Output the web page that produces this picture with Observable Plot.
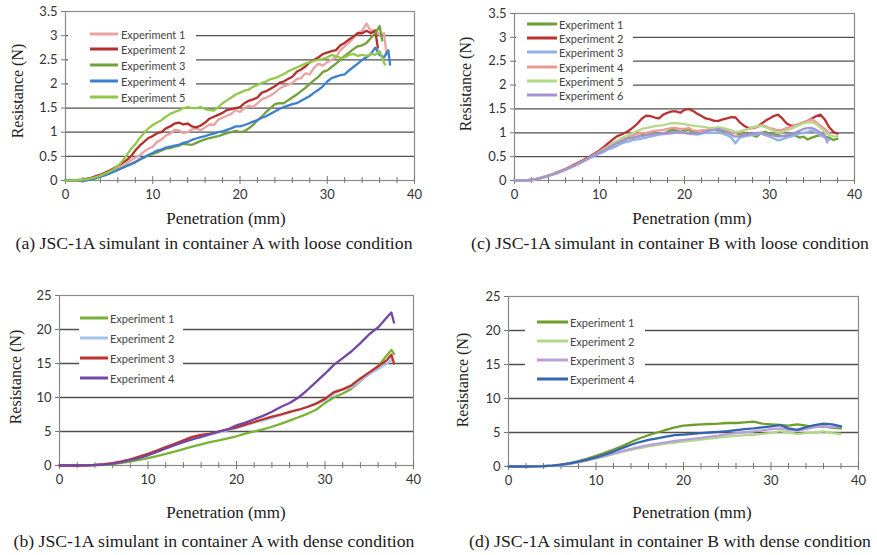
<!DOCTYPE html>
<html>
<head>
<meta charset="utf-8">
<script src="https://cdn.jsdelivr.net/npm/d3@7"></script>
<script src="https://cdn.jsdelivr.net/npm/@observablehq/plot@0.6"></script>
<style>
  html, body { margin: 0; padding: 0; background: #fff; }
  #root { position: relative; width: 877px; height: 555px; overflow: hidden; background: #fff; }
  .panel { position: absolute; }
  .txt { position: absolute; white-space: nowrap; transform: translate(-50%, -50%); font-family: "Liberation Serif", "Times New Roman", serif; color: #1a1a1a; }
  .ylab { position: absolute; white-space: nowrap; transform: translate(-50%, -50%) rotate(-90deg); font-family: "Liberation Serif", "Times New Roman", serif; font-size: 16px; color: #222; }
  .legend { position: absolute; background: #fff; }
  .item { position: absolute; font-family: Lato, "Open Sans", sans-serif; font-size: 11px; color: #444; white-space: nowrap; transform: translateY(-50%); }
  .sw { position: absolute; height: 3px; transform: translateY(-50%); }
</style>
</head>
<body>
<div id="root"></div>
<script>
// ---------- DATA ----------
const xTickLabels = [0, 10, 20, 30, 40];
const xMinorTicks = [2, 4, 6, 8, 12, 14, 16, 18, 22, 24, 26, 28, 32, 34, 36, 38];
const xMajorTicks = [0, 10, 20, 30, 40];
const yTicksLoose = [0, 0.5, 1, 1.5, 2, 2.5, 3, 3.5];
const yTicksDense = [0, 5, 10, 15, 20, 25];

// (a) container A, loose — [penetration mm, resistance N]
const namesA = ["Experiment 1","Experiment 2","Experiment 3","Experiment 4","Experiment 5"];
const colorsA = ["#eaa3a3","#b3302d","#73a13a","#3d80cf","#92c94a"];
const aExp1 = [[0,0],[1,0],[2,0.01],[2.5,0.02],[3,0.04],[3.5,0.06],[4,0.09],[4.5,0.12],[5,0.15],[5.5,0.2],[6,0.24],[6.5,0.3],[7,0.35],[7.5,0.42],[8,0.47],[8.5,0.52],[9,0.6],[9.5,0.66],[10,0.7],[10.5,0.8],[11,0.85],[11.5,0.93],[12,0.97],[12.5,1.05],[13,1.04],[13.5,0.98],[14,1.0],[14.5,1.06],[15,1.08],[15.5,1.04],[16,1.1],[16.5,1.16],[17,1.15],[17.5,1.26],[18,1.3],[18.5,1.34],[19,1.38],[19.5,1.46],[20,1.42],[20.5,1.5],[21,1.55],[21.5,1.52],[22,1.6],[22.5,1.68],[23,1.72],[23.5,1.76],[24,1.82],[24.5,1.9],[25,1.95],[25.5,1.98],[26,2.02],[26.5,2.1],[27,2.12],[27.5,2.22],[28,2.2],[28.5,2.34],[29,2.42],[29.5,2.38],[30,2.45],[30.5,2.5],[31,2.55],[31.5,2.7],[32,2.78],[32.5,2.85],[33,2.95],[33.5,3.05],[34,3.1],[34.5,3.25],[35,3.1],[35.5,3.12],[36,3.02],[36.5,3.05],[36.8,2.6]];
const aExp2 = [[0,0],[1,0],[1.5,0.01],[2,0.02],[2.5,0.04],[3,0.06],[3.5,0.09],[4,0.12],[4.5,0.16],[5,0.2],[5.5,0.25],[6,0.3],[6.5,0.36],[7,0.42],[7.5,0.5],[8,0.62],[8.5,0.72],[9,0.8],[9.5,0.88],[10,0.92],[10.5,0.98],[11,1.0],[11.5,1.08],[12,1.12],[12.5,1.18],[13,1.2],[13.5,1.16],[14,1.18],[14.5,1.12],[15,1.1],[15.5,1.14],[16,1.2],[16.5,1.28],[17,1.32],[17.5,1.36],[18,1.4],[18.5,1.46],[19,1.48],[19.5,1.5],[20,1.52],[20.5,1.6],[21,1.65],[21.5,1.68],[22,1.72],[22.5,1.82],[23,1.85],[23.5,1.9],[24,1.95],[24.5,2.02],[25,2.05],[25.5,2.1],[26,2.15],[26.5,2.25],[27,2.3],[27.5,2.36],[28,2.45],[28.5,2.5],[29,2.55],[29.5,2.62],[30,2.65],[30.5,2.68],[31,2.7],[31.5,2.8],[32,2.85],[32.5,2.92],[33,2.98],[33.5,3.05],[34,3.05],[34.5,3.1],[35,3.05],[35.5,3.1],[35.8,2.75]];
const aExp3 = [[0,0],[2,0],[2.5,0.01],[3,0.03],[3.5,0.05],[4,0.08],[4.5,0.11],[5,0.14],[5.5,0.18],[6,0.22],[6.5,0.26],[7,0.3],[7.5,0.34],[8,0.38],[8.5,0.43],[9,0.47],[9.5,0.52],[10,0.55],[10.5,0.58],[11,0.62],[11.5,0.66],[12,0.67],[12.5,0.7],[13,0.72],[13.5,0.76],[14,0.75],[14.5,0.74],[15,0.78],[15.5,0.82],[16,0.85],[16.5,0.88],[17,0.9],[17.5,0.92],[18,0.95],[18.5,0.98],[19,1.0],[19.5,1.03],[20,1.0],[20.5,1.02],[21,1.08],[21.5,1.15],[22,1.25],[22.5,1.32],[23,1.42],[23.5,1.5],[24,1.58],[24.5,1.6],[25,1.6],[25.5,1.66],[26,1.72],[26.5,1.78],[27,1.85],[27.5,1.92],[28,2.0],[28.5,2.08],[29,2.15],[29.5,2.25],[30,2.28],[30.5,2.35],[31,2.42],[31.5,2.5],[32,2.58],[32.5,2.65],[33,2.72],[33.5,2.78],[34,2.8],[34.5,2.85],[35,2.95],[35.5,3.05],[36,3.2],[36.3,2.9]];
const aExp4 = [[0,0],[2,0],[2.5,0.01],[3,0.03],[3.5,0.05],[4,0.08],[4.5,0.11],[5,0.14],[5.5,0.18],[6,0.22],[6.5,0.26],[7,0.3],[7.5,0.34],[8,0.38],[8.5,0.44],[9,0.48],[9.5,0.53],[10,0.57],[10.5,0.62],[11,0.64],[11.5,0.68],[12,0.7],[12.5,0.72],[13,0.74],[13.5,0.78],[14,0.8],[14.5,0.84],[15,0.87],[15.5,0.9],[16,0.92],[16.5,0.95],[17,0.97],[17.5,1.0],[18,1.02],[18.5,1.05],[19,1.08],[19.5,1.12],[20,1.12],[20.5,1.15],[21,1.18],[21.5,1.22],[22,1.25],[22.5,1.3],[23,1.33],[23.5,1.38],[24,1.43],[24.5,1.48],[25,1.52],[25.5,1.55],[26,1.58],[26.5,1.6],[27,1.65],[27.5,1.7],[28,1.75],[28.5,1.82],[29,1.88],[29.5,1.95],[30,2.05],[30.5,2.12],[31,2.15],[31.5,2.18],[32,2.2],[32.5,2.28],[33,2.35],[33.5,2.42],[34,2.5],[34.5,2.55],[35,2.62],[35.5,2.75],[36,2.6],[36.5,2.55],[37,2.7],[37.2,2.4]];
const aExp5 = [[0,0],[1,0],[1.5,0.01],[2,0.02],[2.5,0.03],[3,0.05],[3.5,0.07],[4,0.1],[4.5,0.14],[5,0.18],[5.5,0.23],[6,0.3],[6.5,0.4],[7,0.52],[7.5,0.65],[8,0.75],[8.5,0.88],[9,0.98],[9.5,1.08],[10,1.15],[10.5,1.2],[11,1.25],[11.5,1.32],[12,1.38],[12.5,1.42],[13,1.45],[13.5,1.5],[14,1.52],[14.5,1.5],[15,1.5],[15.5,1.52],[16,1.48],[16.5,1.46],[17,1.45],[17.5,1.52],[18,1.6],[18.5,1.66],[19,1.72],[19.5,1.78],[20,1.82],[20.5,1.86],[21,1.88],[21.5,1.94],[22,1.98],[22.5,2.02],[23,2.05],[23.5,2.1],[24,2.12],[24.5,2.16],[25,2.2],[25.5,2.26],[26,2.3],[26.5,2.34],[27,2.38],[27.5,2.42],[28,2.45],[28.5,2.48],[29,2.5],[29.5,2.52],[30,2.55],[30.5,2.6],[31,2.57],[31.5,2.54],[32,2.55],[32.5,2.6],[33,2.62],[33.5,2.58],[34,2.6],[34.5,2.58],[35,2.62],[35.5,2.6],[36,2.68],[36.6,2.4]];

// (c) container B, loose
const namesC = ["Experiment 1","Experiment 2","Experiment 3","Experiment 4","Experiment 5","Experiment 6"];
const colorsC = ["#6fa033","#bb3030","#8fb3e6","#ec9a98","#b3d98a","#a593d3"];
const cExp1 = [[0,0],[1,0],[2,0.01],[3,0.05],[4,0.1],[5,0.16],[6,0.23],[7,0.31],[8,0.4],[9,0.5],[10,0.6],[10.5,0.64],[11,0.7],[11.5,0.76],[12,0.78],[12.5,0.8],[13,0.85],[13.5,0.9],[14,0.9],[14.5,0.92],[15,0.95],[15.5,0.97],[16,0.98],[16.5,1.0],[17,1.0],[17.5,0.98],[18,1.02],[18.5,1.06],[19,1.05],[19.5,1.02],[20,1.04],[20.5,1.06],[21,1.02],[21.5,1.0],[22,1.0],[22.5,1.03],[23,1.05],[23.5,1.08],[24,1.05],[24.5,1.02],[25,1.02],[25.5,1.04],[26,1.0],[26.5,0.96],[27,0.95],[27.5,0.98],[28,0.95],[28.5,0.92],[29,1.0],[29.5,1.02],[30,0.98],[30.5,0.96],[31,0.95],[31.5,0.93],[32,0.92],[32.5,0.95],[33,0.95],[33.5,0.9],[34,0.92],[34.5,0.86],[35,0.9],[35.5,0.93],[36,0.95],[36.5,0.92],[37,0.9],[37.5,0.85],[38,0.87]];
const cExp2 = [[0,0],[1,0],[2,0.01],[3,0.05],[4,0.1],[5,0.17],[6,0.24],[7,0.33],[8,0.42],[9,0.52],[10,0.63],[10.5,0.7],[11,0.78],[11.5,0.85],[12,0.92],[12.5,0.96],[13,1.0],[13.5,1.05],[14,1.12],[14.5,1.2],[15,1.3],[15.5,1.36],[16,1.35],[16.5,1.32],[17,1.3],[17.5,1.38],[18,1.42],[18.5,1.45],[19,1.45],[19.5,1.42],[20,1.48],[20.5,1.5],[21,1.46],[21.5,1.4],[22,1.35],[22.5,1.3],[23,1.28],[23.5,1.25],[24,1.25],[24.5,1.28],[25,1.3],[25.5,1.33],[26,1.32],[26.5,1.22],[27,1.15],[27.5,1.1],[28,1.1],[28.5,1.12],[29,1.18],[29.5,1.25],[30,1.3],[30.5,1.35],[31,1.38],[31.5,1.3],[32,1.2],[32.5,1.15],[33,1.15],[33.5,1.18],[34,1.22],[34.5,1.25],[35,1.3],[35.5,1.35],[36,1.38],[36.5,1.28],[37,1.12],[37.5,1.02],[38,0.98]];
const cExp3 = [[0,0],[2,0],[3,0.04],[4,0.09],[5,0.15],[6,0.22],[7,0.3],[8,0.39],[9,0.48],[10,0.56],[10.5,0.6],[11,0.65],[11.5,0.68],[12,0.72],[12.5,0.77],[13,0.8],[13.5,0.82],[14,0.85],[14.5,0.86],[15,0.88],[15.5,0.9],[16,0.92],[16.5,0.94],[17,0.96],[17.5,0.97],[18,0.98],[18.5,0.99],[19,1.0],[19.5,1.02],[20,1.0],[20.5,0.98],[21,0.97],[21.5,0.96],[22,0.98],[22.5,1.0],[23,1.0],[23.5,1.0],[24,1.02],[24.5,0.98],[25,0.95],[25.5,0.9],[26,0.78],[26.5,0.9],[27,0.92],[27.5,0.94],[28,0.95],[28.5,0.96],[29,0.98],[29.5,0.95],[30,0.92],[30.5,0.88],[31,0.84],[31.5,0.86],[32,0.9],[32.5,0.92],[33,0.95],[33.5,0.98],[34,1.0],[34.5,1.02],[35,1.05],[35.5,1.0],[36,0.95],[36.5,0.9],[37,0.85]];
const cExp4 = [[0,0],[1,0],[2,0.01],[3,0.05],[4,0.1],[5,0.16],[6,0.23],[7,0.31],[8,0.4],[9,0.5],[10,0.6],[10.5,0.66],[11,0.72],[11.5,0.78],[12,0.82],[12.5,0.86],[13,0.9],[13.5,0.93],[14,0.95],[14.5,0.98],[15,1.0],[15.5,1.0],[16,1.02],[16.5,1.04],[17,1.05],[17.5,1.06],[18,1.08],[18.5,1.1],[19,1.1],[19.5,1.08],[20,1.08],[20.5,1.1],[21,1.05],[21.5,1.04],[22,1.05],[22.5,1.06],[23,1.08],[23.5,1.1],[24,1.1],[24.5,1.08],[25,1.05],[25.5,1.02],[26,1.0],[26.5,1.02],[27,1.05],[27.5,1.08],[28,1.1],[28.5,1.12],[29,1.15],[29.5,1.14],[30,1.1],[30.5,1.08],[31,1.05],[31.5,1.06],[32,1.1],[32.5,1.12],[33,1.15],[33.5,1.18],[34,1.22],[34.5,1.25],[35,1.28],[35.5,1.22],[36,1.15],[36.5,1.08],[37,1.0]];
const cExp5 = [[0,0],[1,0],[2,0.01],[3,0.05],[4,0.1],[5,0.16],[6,0.23],[7,0.31],[8,0.4],[9,0.5],[10,0.6],[10.5,0.65],[11,0.7],[11.5,0.76],[12,0.82],[12.5,0.88],[13,0.92],[13.5,0.96],[14,1.0],[14.5,1.04],[15,1.08],[15.5,1.1],[16,1.12],[16.5,1.14],[17,1.15],[17.5,1.16],[18,1.18],[18.5,1.2],[19,1.2],[19.5,1.19],[20,1.18],[20.5,1.16],[21,1.15],[21.5,1.14],[22,1.13],[22.5,1.12],[23,1.1],[23.5,1.1],[24,1.12],[24.5,1.1],[25,1.08],[25.5,1.05],[26,1.02],[26.5,1.03],[27,1.05],[27.5,1.08],[28,1.12],[28.5,1.14],[29,1.15],[29.5,1.12],[30,1.08],[30.5,1.04],[31,1.0],[31.5,1.02],[32,1.05],[32.5,1.08],[33,1.12],[33.5,1.16],[34,1.2],[34.5,1.22],[35,1.22],[35.5,1.18],[36,1.1],[36.5,1.02],[37,0.95],[37.5,0.93],[38,0.92]];
const cExp6 = [[0,0],[1,0],[2,0.01],[3,0.05],[4,0.1],[5,0.16],[6,0.23],[7,0.31],[8,0.4],[9,0.5],[10,0.59],[10.5,0.63],[11,0.68],[11.5,0.73],[12,0.78],[12.5,0.82],[13,0.85],[13.5,0.88],[14,0.9],[14.5,0.92],[15,0.93],[15.5,0.95],[16,0.96],[16.5,0.97],[17,0.98],[17.5,0.99],[18,1.0],[18.5,1.01],[19,1.02],[19.5,1.02],[20,1.0],[20.5,0.99],[21,0.98],[21.5,0.98],[22,1.0],[22.5,1.02],[23,1.05],[23.5,1.06],[24,1.08],[24.5,1.05],[25,1.0],[25.5,0.96],[26,0.92],[26.5,0.93],[27,0.95],[27.5,0.96],[28,0.98],[28.5,1.0],[29,1.0],[29.5,0.98],[30,0.95],[30.5,0.94],[31,0.92],[31.5,0.93],[32,0.95],[32.5,0.98],[33,1.0],[33.5,1.04],[34,1.08],[34.5,1.1],[35,1.1],[35.5,1.06],[36,1.0],[36.5,0.95],[36.8,0.8]];

// (b) container A, dense
const penB = [0,1,2,3,4,5,6,7,8,9,10,11,12,13,14,15,16,17,18,19,20,21,22,23,24,25,26,27,28,29,30,31,32,33,34,35,36,37,37.5,37.8];
const namesB = ["Experiment 1","Experiment 2","Experiment 3","Experiment 4"];
const colorsB = ["#78b236","#a4c4e8","#c0302e","#7447a0"];
const bExp1 = [0,0,0,0.02,0.05,0.1,0.2,0.38,0.58,0.82,1.08,1.38,1.72,2.05,2.42,2.78,3.12,3.42,3.68,3.98,4.3,4.68,5.0,5.3,5.7,6.12,6.6,7.1,7.6,8.2,9.2,10.0,10.6,11.3,12.4,13.5,14.6,16.2,17.0,16.4];
const bExp2 = [0,0,0,0.03,0.08,0.15,0.3,0.52,0.82,1.15,1.55,2.0,2.5,3.0,3.5,3.9,4.2,4.55,4.85,5.15,5.5,5.9,6.3,6.65,7.0,7.4,7.8,8.2,8.6,9.1,9.6,10.5,11.2,11.5,12.5,13.4,14.2,15.0,15.5,null];
const bExp3 = [0,0,0,0.03,0.1,0.2,0.35,0.6,0.9,1.3,1.7,2.2,2.7,3.2,3.7,4.2,4.5,4.7,5.0,5.3,5.6,6.0,6.4,6.8,7.2,7.5,7.9,8.2,8.6,9.1,9.8,10.8,11.2,11.8,12.8,13.7,14.6,15.5,16.3,15.0];
const bExp4 = [0,0,0,0.02,0.06,0.14,0.28,0.5,0.78,1.1,1.5,2.0,2.5,3.0,3.45,3.85,4.2,4.6,5.0,5.3,5.9,6.3,6.8,7.3,7.9,8.6,9.2,10.0,11.1,12.3,13.5,14.8,15.8,16.8,18.0,19.3,20.3,21.8,22.5,21.0];

// (d) container B, dense
const penD = [0,1,2,3,4,5,6,7,8,9,10,11,12,13,14,15,16,17,18,19,20,21,22,23,24,25,26,27,28,29,30,31,32,33,34,35,36,37,38];
const namesD = ["Experiment 1","Experiment 2","Experiment 3","Experiment 4"];
const colorsD = ["#6f9e2f","#b2d88a","#b8a0d8","#3465ae"];
const dExp1 = [0,0,0,0.02,0.06,0.14,0.28,0.5,0.8,1.15,1.55,2.0,2.5,3.0,3.6,4.15,4.6,5.0,5.4,5.75,6.0,6.1,6.2,6.25,6.3,6.4,6.4,6.5,6.6,6.3,6.2,6.1,6.0,6.2,6.0,5.8,5.9,5.7,5.6];
const dExp2 = [0,0,0,0.02,0.05,0.12,0.22,0.38,0.6,0.88,1.18,1.5,1.82,2.15,2.45,2.7,2.95,3.15,3.35,3.5,3.65,3.8,3.95,4.1,4.25,4.4,4.5,4.6,4.65,4.8,4.95,5.2,5.0,4.8,4.9,5.0,5.15,4.9,4.8];
const dExp3 = [0,0,0,0.02,0.05,0.12,0.24,0.4,0.64,0.92,1.22,1.55,1.9,2.25,2.6,2.9,3.15,3.35,3.55,3.75,3.9,4.05,4.2,4.4,4.55,4.75,4.9,5.05,5.15,5.3,5.5,5.6,5.4,5.3,5.5,5.8,5.9,5.8,5.9];
const dExp4 = [0,0,0,0.02,0.06,0.14,0.27,0.46,0.72,1.0,1.35,1.75,2.2,2.7,3.2,3.6,3.9,4.15,4.4,4.6,4.7,4.8,4.9,5.0,5.1,5.2,5.35,5.5,5.6,5.75,5.9,6.1,5.6,5.4,5.8,6.1,6.3,6.2,5.9];

const xLabel = "Penetration (mm)";
const yLabel = "Resistance (N)";
const captions = [
  "(a) JSC-1A simulant in container A with loose condition",
  "(c) JSC-1A simulant in container B with loose condition",
  "(b) JSC-1A simulant in container A with dense condition",
  "(d) JSC-1A simulant in container B with dense condition"
];

// ---------- DRAWING ----------
const root = document.getElementById("root");
const fromPairs = s => s.map(([x, y]) => ({x, y}));
const fromGrid = (grid, vals) => grid.map((x, j) => ({x, y: vals[j]})).filter(d => d.y != null);

function panel(cfg) {
  const innerH = cfg.height - cfg.marginTop - cfg.marginBottom;
  const yMax = cfg.yTicks[cfg.yTicks.length - 1];
  const lines = cfg.series.map((rows, i) =>
    Plot.line(rows, {x: "x", y: "y", stroke: cfg.colors[i], strokeWidth: 2.3, strokeLinejoin: "round", strokeLinecap: "round"})
  );
  const svg = Plot.plot({
    width: cfg.width, height: cfg.height,
    marginLeft: cfg.marginLeft, marginRight: cfg.marginRight,
    marginTop: cfg.marginTop, marginBottom: cfg.marginBottom,
    style: {background: "none", overflow: "visible", color: "#333", fontFamily: "Lato, 'Open Sans', sans-serif"},
    x: {domain: [0, 40]},
    y: {domain: [0, yMax]},
    marks: [
      Plot.ruleY(cfg.yTicks.filter(v => v > 0 && v < yMax), {stroke: "#505050", strokeWidth: 1.3}),
      Plot.frame({stroke: "#8a8a8a", strokeWidth: 1.2}),
      Plot.axisY({ticks: cfg.yTicks, tickSize: 4, tickPadding: 4, tickFormat: d => String(d), fontSize: 13, label: null, stroke: "#777"}),
      Plot.axisX({ticks: xTickLabels, tickSize: 0, tickPadding: 9, tickFormat: d => String(d), fontSize: 13, label: null}),
      Plot.tickX(xMinorTicks, {x: d => d, insetTop: innerH - 3, insetBottom: -3, stroke: "#777"}),
      Plot.tickX(xMajorTicks, {x: d => d, insetTop: innerH - 4, insetBottom: -4, stroke: "#777"}),
      ...lines
    ]
  });
  const wrap = document.createElement("div");
  wrap.className = "panel";
  wrap.style.left = cfg.left + "px";
  wrap.style.top = cfg.top + "px";
  wrap.appendChild(svg);
  root.appendChild(wrap);
}

function addText(cls, text, cx, cy, size) {
  const d = document.createElement("div");
  d.className = cls;
  d.textContent = text;
  d.style.left = cx + "px";
  d.style.top = cy + "px";
  if (size) d.style.fontSize = size + "px";
  root.appendChild(d);
  return d;
}

function legend(names, colors, box, sw, textX, y0, dy) {
  const lg = document.createElement("div");
  lg.className = "legend";
  lg.style.left = box[0] + "px"; lg.style.top = box[1] + "px";
  lg.style.width = (box[2] - box[0]) + "px"; lg.style.height = (box[3] - box[1]) + "px";
  root.appendChild(lg);
  names.forEach((n, i) => {
    const y = y0 + i * dy;
    const s = document.createElement("div");
    s.className = "sw";
    s.style.left = sw[0] + "px"; s.style.width = (sw[1] - sw[0]) + "px";
    s.style.top = y + "px"; s.style.background = colors[i];
    root.appendChild(s);
    const t = document.createElement("div");
    t.className = "item";
    t.textContent = n;
    t.style.left = textX + "px"; t.style.top = y + "px";
    root.appendChild(t);
  });
}

panel({left: 0, top: 0, width: 438, height: 205, marginLeft: 65, marginRight: 24, marginTop: 11, marginBottom: 25,
  yTicks: yTicksLoose, series: [aExp1, aExp2, aExp3, aExp4, aExp5].map(fromPairs), colors: colorsA});
panel({left: 440, top: 0, width: 437, height: 205, marginLeft: 74, marginRight: 23, marginTop: 13, marginBottom: 25,
  yTicks: yTicksLoose, series: [cExp1, cExp2, cExp3, cExp4, cExp5, cExp6].map(fromPairs), colors: colorsC});
panel({left: 0, top: 270, width: 438, height: 220, marginLeft: 59, marginRight: 25, marginTop: 25, marginBottom: 25,
  yTicks: yTicksDense, series: [bExp1, bExp2, bExp3, bExp4].map(v => fromGrid(penB, v)), colors: colorsB});
panel({left: 440, top: 270, width: 437, height: 220, marginLeft: 68, marginRight: 19, marginTop: 26, marginBottom: 24,
  yTicks: yTicksDense, series: [dExp1, dExp2, dExp3, dExp4].map(v => fromGrid(penD, v)), colors: colorsD});

legend(namesA, colorsA, [68, 21, 196, 104], [90, 118], 121, 33.5, 15.8);
legend(namesC, colorsC, [516, 16, 633, 102], [527, 557], 559, 24, 14.2);
legend(namesB, colorsB, [79, 305, 183, 392], [80, 108], 110, 318, 20);
legend(namesD, colorsD, [525, 308, 645, 392], [537, 568], 570, 322, 19);

addText("ylab", yLabel, 18, 91);
addText("ylab", yLabel, 466, 84);
addText("ylab", yLabel, 16, 377);
addText("ylab", yLabel, 463, 380);

addText("txt", xLabel, 226, 219, 17);
addText("txt", xLabel, 692, 219, 17);
addText("txt", xLabel, 226, 513, 17);
addText("txt", xLabel, 692, 513, 17);

addText("txt", captions[0], 214, 243, 17.7);
addText("txt", captions[1], 670, 243, 17.7);
addText("txt", captions[2], 214, 541, 17.7);
addText("txt", captions[3], 670, 541, 17.7);
</script>
</body>
</html>
